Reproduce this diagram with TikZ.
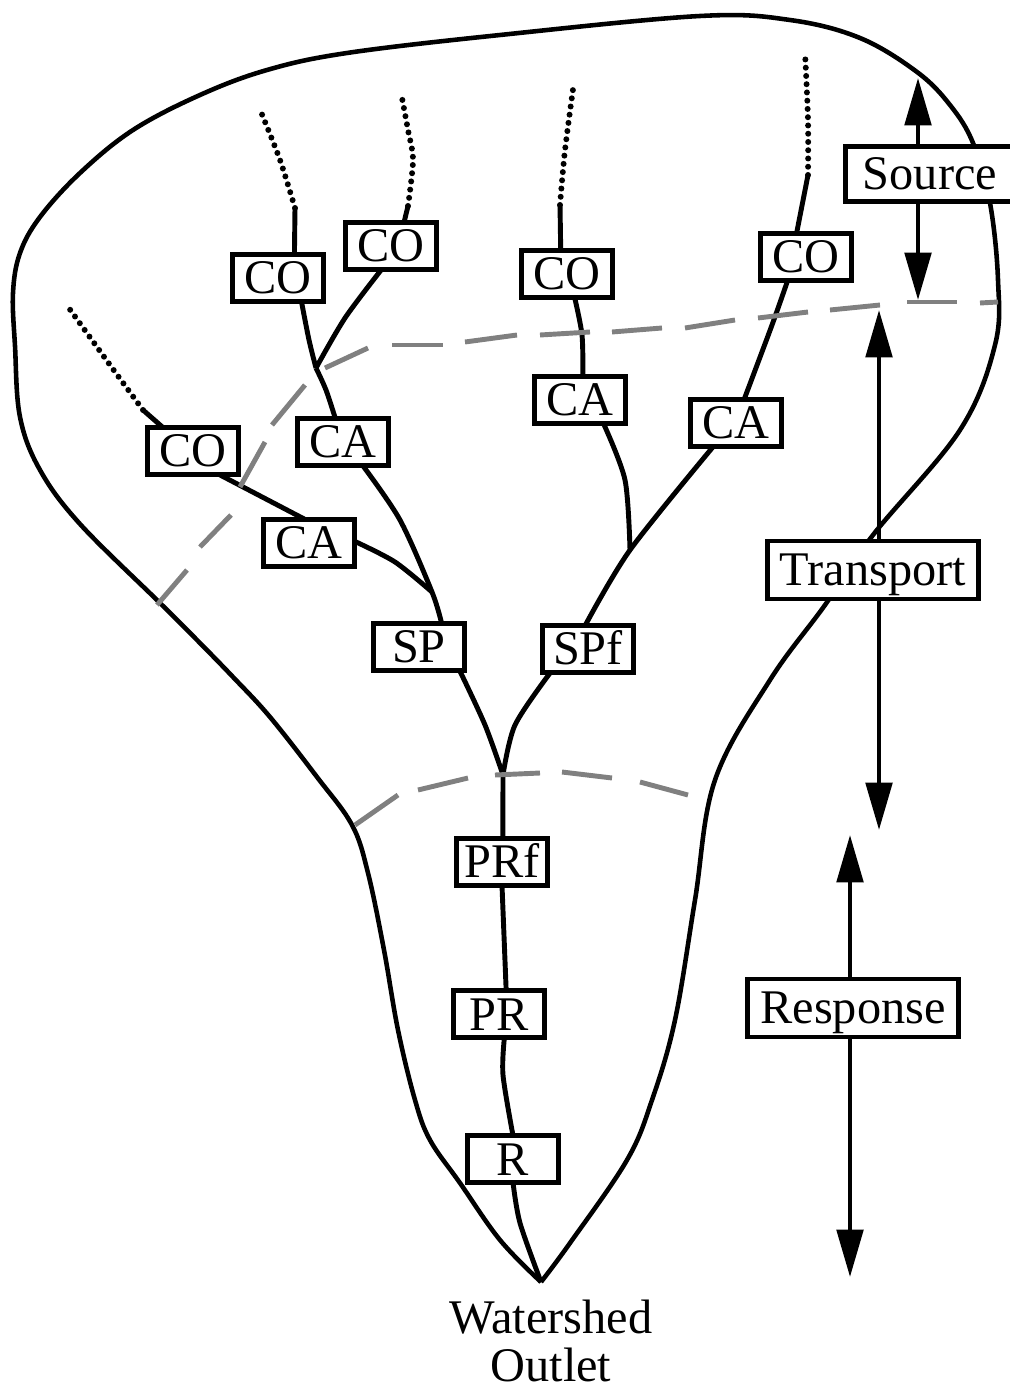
\documentclass[tikz,border=0pt]{standalone}
\usepackage{fontspec}
\setmainfont{Liberation Serif}
\usetikzlibrary{arrows.meta}
\usetikzlibrary{backgrounds}

\tikzset{
    reach/.style={draw,fill=white,line width=2.8pt,inner sep=0pt,outer sep=0pt,
        minimum width=52.2pt,minimum height=26.7pt,text height=18.2pt,text depth=0pt,
        font=\fontsize{27.5}{31}\selectfont},
    zone/.style={reach,minimum width=120.2pt,minimum height=33pt},
    stream/.style={line width=2.8pt,line join=round},
    headwater/.style={line width=3.4pt,line cap=round,dash pattern=on 0pt off 4.7pt},
    divide/.style={line width=2.8pt,black!50},
    shed/.style={line width=2.6pt,line join=round},
    span/.style={line width=2.5pt}
}

\begin{document}
\begin{tikzpicture}[x=0.02cm,y=-0.02cm,>={Triangle[length=27pt,width=15pt]}]
    \useasboundingbox (0,0) rectangle (1010,1392);
    %
    \node[reach] (coa) at (278,278) {CO};
    \node[reach] (cob) at (391,246) {CO};
    \node[reach] (coc) at (193,451) {CO};
    \node[reach] (cad) at (343,442) {CA};
    \node[reach] (cae) at (309,543) {CA};
    \node[reach] (cof) at (567,274) {CO};
    \node[reach] (cag) at (580,400) {CA};
    \node[reach] (coh) at (806,257) {CO};
    \node[reach] (cai) at (736,423) {CA};
    \node[reach] (sp) at (419,647) {SP};
    \node[reach] (spf) at (588,649) {SPf};
    \node[reach] (prf) at (502,862) {PRf};
    \node[reach] (pr) at (499,1014) {PR};
    \node[reach] (r) at (513,1159) {R};
    \node[zone,minimum width=96pt,minimum height=31.5pt] (source) at (930,174) {Source};
    \node[zone] (transport) at (873,570) {Transport};
    \node[zone] (response) at (853,1008) {Response};
    \node[font=\fontsize{27.5}{27.2}\selectfont,align=center] (label) at (551,1341) {Watershed\\Outlet};
    %
    \coordinate (outlet) at (541,1282);
    \coordinate (ja) at (316,368);
    \coordinate (jb) at (432,592);
    \coordinate (jc) at (503,775);
    \coordinate (jd) at (630,550);
    \coordinate (hwa) at (295,208);
    \coordinate (hwb) at (408,206);
    \coordinate (hwc) at (143,410);
    \coordinate (hwf) at (560,205);
    \coordinate (hwh) at (808,175);
    \coordinate (sourcetop) at (918,78);
    \coordinate (sourcebot) at (918,300);
    \coordinate (transtop) at (879,310);
    \coordinate (transbot) at (879,830);
    \coordinate (resptop) at (850,835);
    \coordinate (respbot) at (850,1277);
    %
    \draw[span,<-] (sourcetop) -- (sourcetop |- source.north);
    \draw[span,->] (sourcebot |- source.south) -- (sourcebot);
    \draw[span,<-] (transtop) -- (transtop |- transport.north);
    \draw[span,->] (transbot |- transport.south) -- (transbot);
    \draw[span,<-] (resptop) -- (resptop |- response.north);
    \draw[span,->] (respbot |- response.south) -- (respbot);
    %
    \begin{scope}[on background layer]
    \draw[shed] plot[smooth,tension=0.6] coordinates {(outlet) (500,1240) (460,1183) (430,1140) (415,1100)
        (398,1030) (384,950) (368,873) (352,825) (317,777) (270,717) (233,677) (197,640) (160,603)
        (80,524) (40,470) (20,417) (15,346) (13,293) (20,253) (40,217) (80,173) (133,130) (200,95)
        (267,70) (347,53) (500,35) (700,16) (790,20) (860,38) (917,72) (950,105) (973,143) (990,203)
        (998,280) (995,345) (960,430) (873,535) (825,605) (770,680) (715,780) (695,900) (675,1020)
        (652,1100) (627,1160) (570,1243) (outlet)};
    %
    \draw[stream] plot[smooth] coordinates {(coa.-45) (309,340) (ja)};
    \draw[stream] plot[smooth] coordinates {(cob.-112) (345,318) (ja)};
    \draw[stream] plot[smooth] coordinates {(ja) (326,390) (cad.108)};
    \draw[stream] plot[smooth] coordinates {(cad.-50) (400,520) (jb) (sp.46)};
    \draw[stream] (coc.-42) -- (cae.99);
    \draw[stream] plot[smooth] coordinates {(cae.2) (395,562) (jb)};
    \draw[stream] plot[smooth] coordinates {(cof.-72) (582,335) (cag.83)};
    \draw[stream] plot[smooth] coordinates {(cag.-45) (625,480) (jd)};
    \draw[stream] plot[smooth] coordinates {(coh.-128) (772,325) (cai.71)};
    \draw[stream] plot[smooth] coordinates {(cai.-134) (jd) (spf.97)};
    \draw[stream] plot[smooth] coordinates {(sp.-30) (485,725) (jc)};
    \draw[stream] plot[smooth] coordinates {(spf.-148) (515,725) (jc)};
    \draw[stream] (jc) -- (prf.88);
    \draw[stream] (prf.south) -- (pr.73);
    \draw[stream] plot[smooth] coordinates {(pr.-77) (503,1075) (r.north)};
    \draw[stream] plot[smooth] coordinates {(r.south) (520,1223) (outlet)};
    %
    \draw[stream] (coa.55) -- (hwa);
    \draw[stream] (cob.61) -- (hwb);
    \draw[stream] (coc.142) -- (hwc);
    \draw[stream] (cof.105) -- (hwf);
    \draw[stream] (coh.112) -- (hwh);
    \draw[headwater] plot[smooth] coordinates {(hwa) (280,160) (261,112)};
    \draw[headwater] plot[smooth] coordinates {(hwb) (413,160) (408,130) (402,98)};
    \draw[headwater] plot[smooth] coordinates {(hwc) (110,365) (66,304)};
    \draw[headwater] plot[smooth] coordinates {(hwf) (565,150) (574,82)};
    \draw[headwater] plot[smooth] coordinates {(hwh) (808,120) (805,52)};
    \end{scope}
    %
    \foreach \xa/\ya/\xb/\yb in {157/605/187/570,200/547/231/515,240/487/265/442,272/425/305/385,
        325/368/368/348,392/345/443/345,465/342/517/335,540/335/590/332,612/332/662/328,
        685/328/735/320,758/318/808/312,830/310/880/305,907/302/957/302,980/303/998/302,
        355/825/398/795,418/790/468/778,495/775/540/773,562/772/612/778,640/782/688/795}
        \draw[divide] (\xa,\ya) -- (\xb,\yb);
\end{tikzpicture}
\end{document}
